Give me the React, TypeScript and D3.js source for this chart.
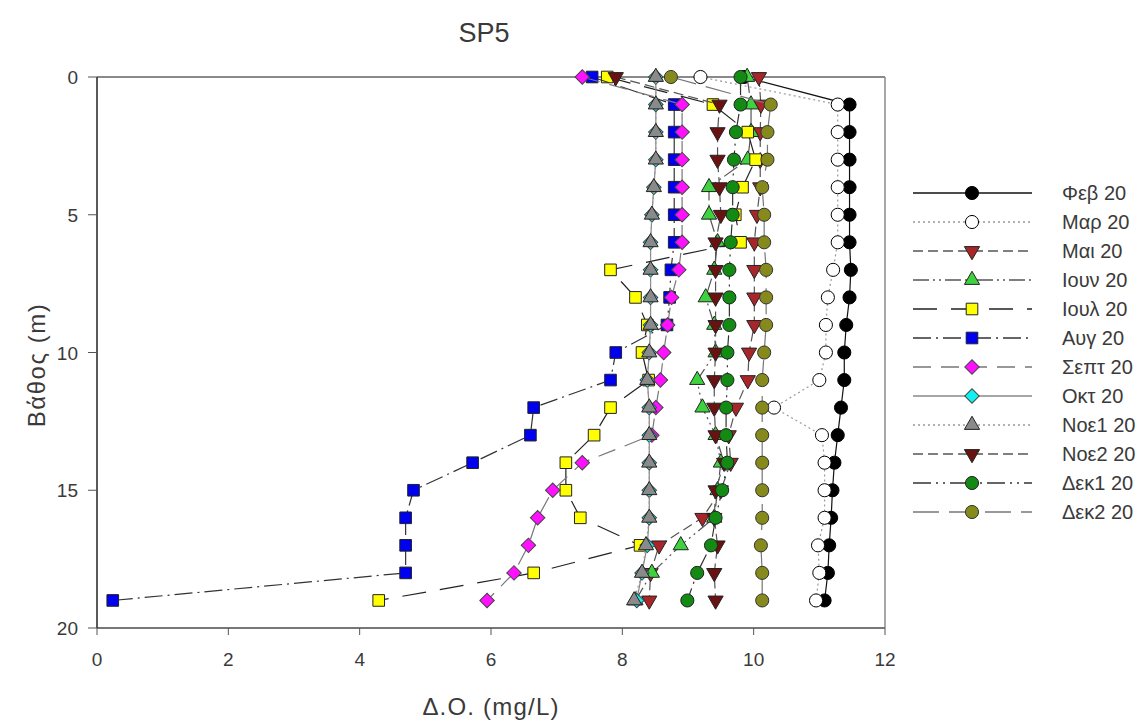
import React from "react";
import * as d3 from "d3";

const depths = [0, 1, 2, 3, 4, 5, 6, 7, 8, 9, 10, 11, 12, 13, 14, 15, 16, 17, 18, 19];

const feb = [9.85, 11.46, 11.46, 11.46, 11.46, 11.46, 11.46, 11.48, 11.46, 11.41, 11.38, 11.38, 11.33, 11.28, 11.23, 11.2, 11.18, 11.15, 11.13, 11.08];
const mar = [9.19, 11.28, 11.28, 11.28, 11.28, 11.28, 11.28, 11.21, 11.13, 11.1, 11.1, 11.0, 10.31, 11.04, 11.08, 11.08, 11.08, 10.98, 11.0, 10.95];
const mai = [10.08, 10.11, 10.1, 10.1, 10.1, 10.05, 10.01, 10.01, 10.01, 10.01, 9.93, 9.91, 9.73, 9.62, 9.65, 9.5, 9.22, 8.56, 8.43, 8.41];
const iouv = [9.9, 9.96, 9.96, 9.91, 9.32, 9.32, 9.45, 9.4, 9.27, 9.4, 9.42, 9.14, 9.22, 9.42, 9.5, 9.45, 9.4, 8.89, 8.45, 8.2];
const ioul = [7.77, 9.38, 9.91, 10.03, 9.83, 9.72, 9.8, 7.82, 8.2, 8.38, 8.3, 8.4, 7.82, 7.57, 7.14, 7.14, 7.36, 8.27, 6.65, 4.29];
const avg = [7.54, 8.79, 8.79, 8.79, 8.79, 8.79, 8.79, 8.74, 8.72, 8.68, 7.9, 7.82, 6.65, 6.6, 5.72, 4.82, 4.7, 4.7, 4.7, 0.24];
const sept = [7.39, 8.91, 8.91, 8.91, 8.91, 8.91, 8.91, 8.86, 8.75, 8.69, 8.63, 8.58, 8.51, 8.45, 7.39, 6.94, 6.71, 6.57, 6.35, 5.94];
const okt = [8.51, 8.51, 8.51, 8.51, 8.48, 8.45, 8.43, 8.43, 8.43, 8.43, 8.41, 8.38, 8.41, 8.41, 8.41, 8.41, 8.41, 8.38, 8.3, 8.22];
const noe1 = [8.51, 8.51, 8.51, 8.51, 8.48, 8.45, 8.43, 8.43, 8.43, 8.43, 8.41, 8.38, 8.41, 8.41, 8.41, 8.41, 8.41, 8.36, 8.3, 8.18];
const noe2 = [7.9, 9.48, 9.45, 9.45, 9.48, 9.5, 9.42, 9.42, 9.42, 9.42, 9.42, 9.4, 9.4, 9.42, 9.55, 9.42, 9.4, 9.45, 9.4, 9.42];
const dek1 = [9.8, 9.8, 9.73, 9.7, 9.68, 9.68, 9.65, 9.63, 9.63, 9.63, 9.6, 9.6, 9.58, 9.58, 9.6, 9.52, 9.42, 9.35, 9.14, 8.99];
const dek2 = [8.74, 10.26, 10.21, 10.21, 10.13, 10.16, 10.16, 10.19, 10.19, 10.19, 10.16, 10.13, 10.13, 10.13, 10.13, 10.13, 10.13, 10.11, 10.13, 10.13];

const seriesNames = ["Φεβ 20", "Μαρ 20", "Μαι 20", "Ιουν 20", "Ιουλ 20", "Αυγ 20", "Σεπτ 20", "Οκτ 20", "Νοε1 20", "Νοε2 20", "Δεκ1 20", "Δεκ2 20"];
const seriesValues = [feb, mar, mai, iouv, ioul, avg, sept, okt, noe1, noe2, dek1, dek2];

const xTicks = [0, 2, 4, 6, 8, 10, 12];
const yTicks = [0, 5, 10, 15, 20];

const title = "SP5";
const xTitle = "Δ.O. (mg/L)";
const yTitle = "Βάθος (m)";

type Style = { shape: string; fill: string; stroke: string; lineColor: string; dash: string };
const styles: Style[] = [
  { shape: "circle", fill: "#000000", stroke: "#000", lineColor: "#111", dash: "" },
  { shape: "circle", fill: "#ffffff", stroke: "#000", lineColor: "#999", dash: "2,3" },
  { shape: "tdown", fill: "#a8262a", stroke: "#222", lineColor: "#555", dash: "10,5" },
  { shape: "tup", fill: "#3fd23f", stroke: "#222", lineColor: "#555", dash: "16,4,2,4,2,4" },
  { shape: "square", fill: "#ffff00", stroke: "#222", lineColor: "#222", dash: "24,14" },
  { shape: "square", fill: "#0000f0", stroke: "#222", lineColor: "#333", dash: "18,5,2,5" },
  { shape: "diamond", fill: "#ff10ff", stroke: "#444", lineColor: "#777", dash: "18,10" },
  { shape: "diamond", fill: "#10f0f0", stroke: "#444", lineColor: "#888", dash: "" },
  { shape: "tup", fill: "#8a8a8a", stroke: "#222", lineColor: "#999", dash: "2,3" },
  { shape: "tdown", fill: "#6a1212", stroke: "#222", lineColor: "#555", dash: "10,5" },
  { shape: "circle", fill: "#138a13", stroke: "#222", lineColor: "#333", dash: "18,5,2,5,2,5" },
  { shape: "circle", fill: "#868a1c", stroke: "#333", lineColor: "#777", dash: "26,10" },
];

const W = 1144;
const H = 724;
const M = { left: 97, right: 885, top: 77, bottom: 628 };

function symbolPath(shape: string): { d: string; rot: number } {
  const s = d3.symbol();
  if (shape === "circle") return { d: s.type(d3.symbolCircle).size(135)() as string, rot: 0 };
  if (shape === "square") return { d: s.type(d3.symbolSquare).size(135)() as string, rot: 0 };
  if (shape === "diamond") return { d: s.type(d3.symbolSquare).size(105)() as string, rot: 45 };
  if (shape === "tup") return { d: s.type(d3.symbolTriangle).size(100)() as string, rot: 0 };
  return { d: s.type(d3.symbolTriangle).size(100)() as string, rot: 180 };
}

function Marker({ x, y, st }: { x: number; y: number; st: Style }) {
  const p = symbolPath(st.shape);
  return (
    <path
      d={p.d}
      transform={`translate(${x},${y}) rotate(${p.rot})`}
      fill={st.fill}
      stroke={st.stroke}
      strokeWidth={1}
    />
  );
}

export default function App() {
  const x = d3.scaleLinear().domain([0, 12]).range([M.left, M.right]);
  const y = d3.scaleLinear().domain([0, 20]).range([M.top, M.bottom]);
  const line = d3
    .line<[number, number]>()
    .x((d) => x(d[0]))
    .y((d) => y(d[1]));

  const font = "'Liberation Sans', Arial, Helvetica, sans-serif";
  const textColor = "#3a3a3a";
  const legendX0 = 913;
  const legendX1 = 1032;
  const legendMarkX = 972;
  const legendTextX = 1062;
  const legendY0 = 193;
  const legendDy = 29;

  return (
    <svg width={W} height={H} style={{ position: "absolute", left: 0, top: 0, background: "#fff" }} fontFamily={font}>
      <rect x={0} y={0} width={W} height={H} fill="#fff" />
      <text x={484} y={42} fontSize={27} fill={textColor} textAnchor="middle">
        {title}
      </text>

      {/* frame */}
      <line x1={M.left} x2={M.right} y1={M.top} y2={M.top} stroke="#8a8a8a" strokeWidth={2} />
      <line x1={M.right} x2={M.right} y1={M.top} y2={M.bottom} stroke="#8a8a8a" strokeWidth={1.5} />
      <line x1={M.left} x2={M.right} y1={M.bottom} y2={M.bottom} stroke="#777" strokeWidth={2.2} />
      <line x1={M.left} x2={M.left} y1={M.top} y2={M.bottom} stroke="#222" strokeWidth={1.5} />

      {/* x ticks */}
      {xTicks.map((t) => (
        <g key={"xt" + t}>
          <line x1={x(t)} x2={x(t)} y1={M.bottom} y2={M.bottom + 7} stroke="#555" strokeWidth={1} />
          <text x={x(t)} y={666} fontSize={19} fill={textColor} textAnchor="middle">
            {t}
          </text>
        </g>
      ))}
      {/* y ticks */}
      {yTicks.map((t) => (
        <g key={"yt" + t}>
          <line x1={M.left - 9} x2={M.left} y1={y(t)} y2={y(t)} stroke="#555" strokeWidth={1} />
          <text x={78} y={y(t) + 7} fontSize={19} fill={textColor} textAnchor="end">
            {t}
          </text>
        </g>
      ))}

      <text x={491} y={715} fontSize={24} letterSpacing={1.2} fill={textColor} textAnchor="middle">
        {xTitle}
      </text>
      <text
        transform={`translate(45,365) rotate(-90)`}
        fontSize={24}
        letterSpacing={1.5}
        fill={textColor}
        textAnchor="middle"
      >
        {yTitle}
      </text>

      {/* series */}
      {seriesValues.map((vals, i) => {
        const st = styles[i];
        const pts: [number, number][] = vals.map((v, j) => [v, depths[j]]);
        return (
          <g key={"s" + i}>
            <path
              d={line(pts) as string}
              fill="none"
              stroke={st.lineColor}
              strokeWidth={1.2}
              strokeDasharray={st.dash || undefined}
            />
            {pts.map((p, j) => (
              <Marker key={j} x={x(p[0])} y={y(p[1])} st={st} />
            ))}
          </g>
        );
      })}

      {/* legend */}
      {seriesNames.map((name, i) => {
        const st = styles[i];
        const ly = legendY0 + i * legendDy;
        return (
          <g key={"l" + i}>
            <line
              x1={legendX0}
              x2={legendX1}
              y1={ly}
              y2={ly}
              stroke={st.lineColor}
              strokeWidth={1.5}
              strokeDasharray={st.dash || undefined}
            />
            <Marker x={legendMarkX} y={ly} st={st} />
            <text x={legendTextX} y={ly + 7} fontSize={20} fill={textColor}>
              {name}
            </text>
          </g>
        );
      })}
    </svg>
  );
}
